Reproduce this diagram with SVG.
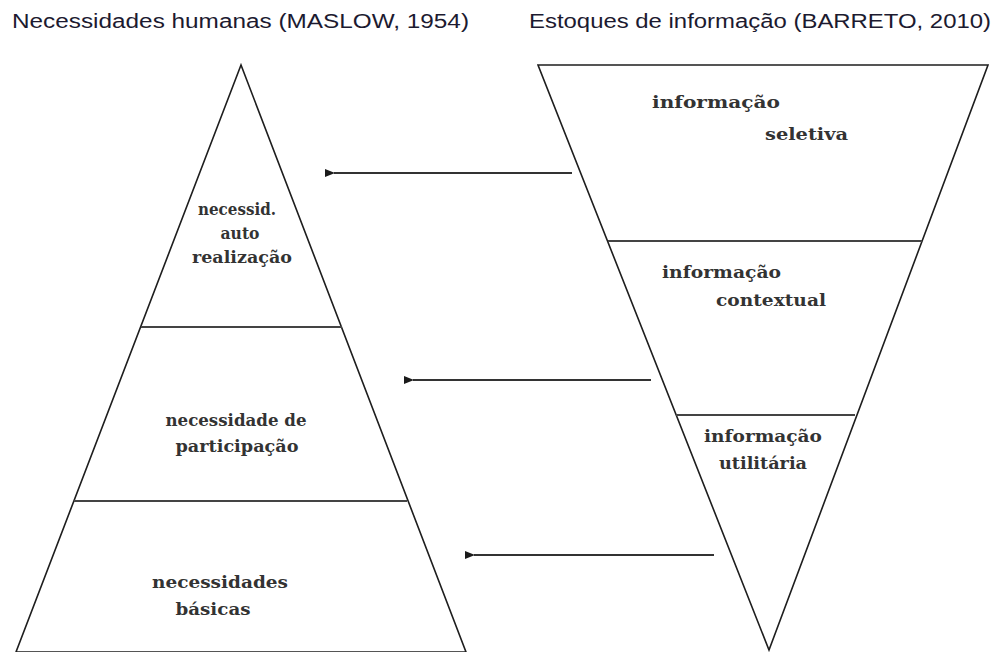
<svg xmlns="http://www.w3.org/2000/svg" width="997" height="652" viewBox="0 0 997 652">
<defs>
<marker id="ah" viewBox="0 0 10 8" refX="1" refY="4" markerWidth="10" markerHeight="8" markerUnits="userSpaceOnUse" orient="auto-start-reverse">
<path d="M0,4 L10,0 L10,8 Z" fill="#1a1a1a"/>
</marker>
</defs>
<style>
.hdr{font-family:"Liberation Sans",Arial,sans-serif;font-size:20px;fill:#1c1a30}
.lbl{font-family:"DejaVu Serif","Liberation Serif",serif;font-size:17px;font-weight:bold;fill:#333}
.shape{fill:#fff;stroke:#1e1e1e;stroke-width:1.6}
.sep{stroke:#444;stroke-width:1.8}
.conn{stroke:#333;stroke-width:2;fill:none}
</style>
<rect width="997" height="652" fill="#fff"/>
<text class="hdr" x="12" y="28" textLength="457" lengthAdjust="spacingAndGlyphs">Necessidades humanas (MASLOW, 1954)</text>
<text class="hdr" x="529" y="28" textLength="462" lengthAdjust="spacingAndGlyphs">Estoques de informação (BARRETO, 2010)</text>

<g id="maslow">
<polygon class="shape" points="241,65 16,652 466,652"/>
<line class="sep" x1="141" y1="327" x2="342" y2="327"/>
<line class="sep" x1="74" y1="501" x2="407" y2="501"/>
</g>
<g id="autorealizacao">
<text class="lbl" x="237" y="215" text-anchor="middle" textLength="78" lengthAdjust="spacingAndGlyphs">necessid.</text>
<text class="lbl" x="240" y="239" text-anchor="middle" textLength="39" lengthAdjust="spacingAndGlyphs">auto</text>
<text class="lbl" x="242" y="263" text-anchor="middle" textLength="100" lengthAdjust="spacingAndGlyphs">realização</text>
</g>
<g id="participacao">
<text class="lbl" x="236" y="426" text-anchor="middle" textLength="141" lengthAdjust="spacingAndGlyphs">necessidade de</text>
<text class="lbl" x="237" y="452" text-anchor="middle" textLength="123" lengthAdjust="spacingAndGlyphs">participação</text>
</g>
<g id="basicas">
<text class="lbl" x="220" y="588" text-anchor="middle" textLength="136" lengthAdjust="spacingAndGlyphs">necessidades</text>
<text class="lbl" x="213" y="615" text-anchor="middle" textLength="75" lengthAdjust="spacingAndGlyphs">básicas</text>
</g>

<g id="estoques">
<polygon class="shape" points="538,65 988,65 769,650"/>
<line class="sep" x1="608" y1="241" x2="922" y2="241"/>
<line class="sep" x1="676" y1="415" x2="855" y2="415"/>
</g>
<g id="seletiva">
<text class="lbl" x="652" y="108" textLength="128" lengthAdjust="spacingAndGlyphs">informação</text>
<text class="lbl" x="765" y="140" textLength="83" lengthAdjust="spacingAndGlyphs">seletiva</text>
</g>
<g id="contextual">
<text class="lbl" x="662" y="278" textLength="119" lengthAdjust="spacingAndGlyphs">informação</text>
<text class="lbl" x="716" y="306" textLength="110" lengthAdjust="spacingAndGlyphs">contextual</text>
</g>
<g id="utilitaria">
<text class="lbl" x="704" y="442" textLength="118" lengthAdjust="spacingAndGlyphs">informação</text>
<text class="lbl" x="719" y="469" textLength="88" lengthAdjust="spacingAndGlyphs">utilitária</text>
</g>

<g id="connectors">
<line class="conn" x1="572" y1="173" x2="334" y2="173" marker-end="url(#ah)"/>
<line class="conn" x1="651" y1="380" x2="413" y2="380" marker-end="url(#ah)"/>
<line class="conn" x1="714" y1="555" x2="474" y2="555" marker-end="url(#ah)"/>
</g>
</svg>
